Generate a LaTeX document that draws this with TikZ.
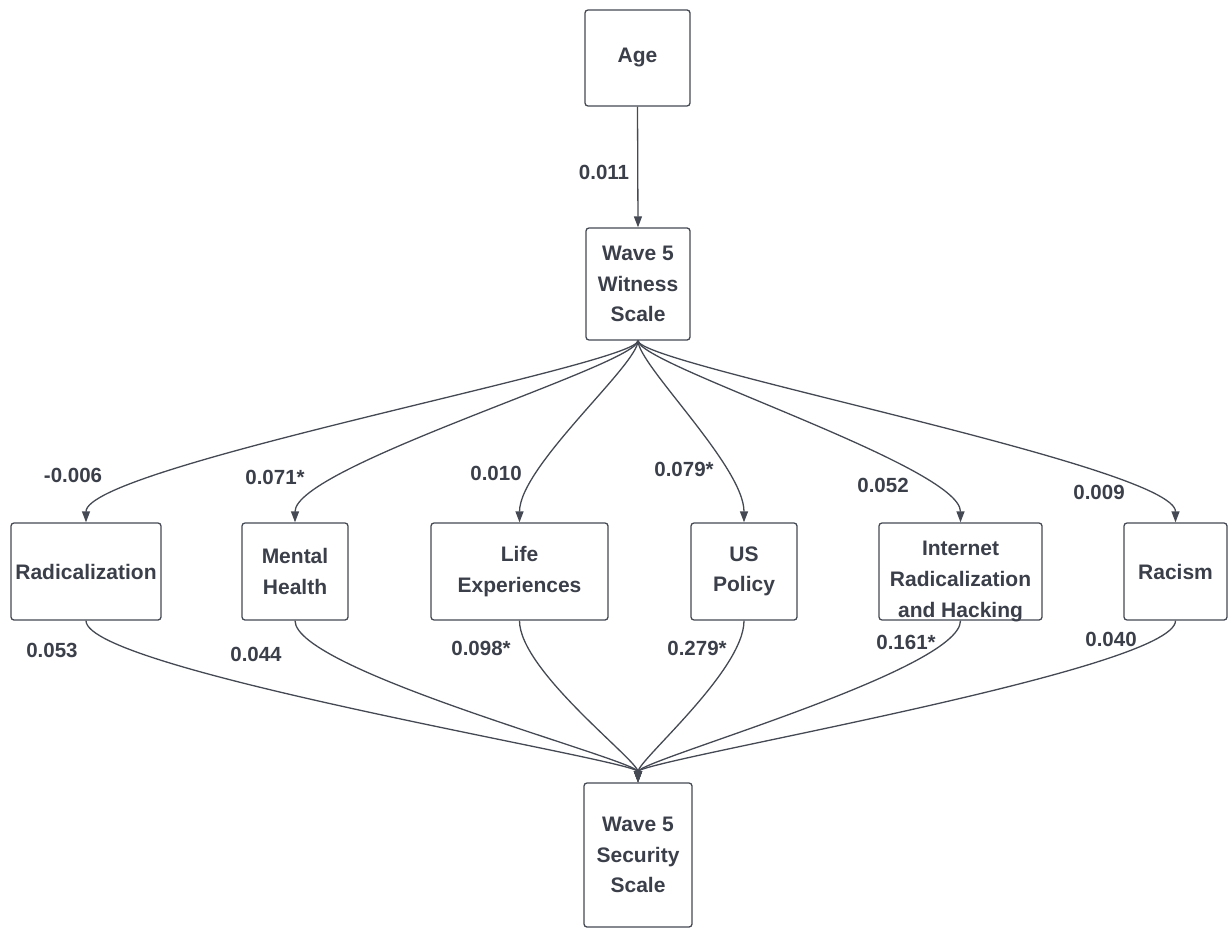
\documentclass[tikz,border=0pt]{standalone}
\usepackage{fontspec}
\setmainfont{Liberation Sans}
\usetikzlibrary{arrows.meta}
\definecolor{ink}{HTML}{3B3F49}
\definecolor{edge}{HTML}{444953}
\tikzset{
  box/.style={draw=edge, line width=1.3pt, rounded corners=3pt, fill=white,
    text=ink, align=center, inner sep=0pt,
    font=\fontsize{21}{30.5}\selectfont\bfseries},
  txt/.style={text=ink, align=center, inner sep=0pt,
    font=\fontsize{21}{31}\selectfont\bfseries},
  coef/.style={text=ink, inner sep=0pt, font=\fontsize{20.5}{24}\selectfont\bfseries},
  conn/.style={draw=edge, line width=1.3pt, -{Triangle[length=11pt,width=8pt]}}
}
\begin{document}
\begin{tikzpicture}[x=1pt,y=-1pt]
\useasboundingbox (0,0) rectangle (1228,928);
% boxes
\node[box, minimum width=105, minimum height=96] (age) at (637.5,58) {Age};
\node[box, minimum width=104, minimum height=112] (wit) at (638,284) {Wave 5\\Witness\\Scale};
\node[box, minimum width=150, minimum height=97] (rad) at (86,571.5) {Radicalization};
\node[box, minimum width=106, minimum height=97] (mh) at (295,571.5) {Mental\\Health};
\node[box, minimum width=177, minimum height=97] (life) at (519.5,571.5) {Life\\Experiences};
\node[box, minimum width=106, minimum height=97] (us) at (744,571.5) {US\\Policy};
\node[box, minimum width=163, minimum height=97] (inet) at (960.5,571.5) {};
\node[txt] (inettext) at (960.5,581) {Internet\\Radicalization\\and Hacking};
\node[box, minimum width=103, minimum height=97] (rac) at (1175.5,571.5) {Racism};
\node[box, minimum width=108, minimum height=144] (sec) at (638,855) {Wave 5\\Security\\Scale};
% age -> witness
\draw[conn] (age.south) -- (wit.north);
\node[coef] (c0) at (604,172) {0.011};
% witness -> mediators
\draw[conn] (wit.south) .. controls +(0,24) and +(0,-56) .. (rad.north);
\draw[conn] (wit.south) .. controls +(0,24) and +(0,-56) .. (mh.north);
\draw[conn] (wit.south) .. controls +(0,24) and +(0,-56) .. (life.north);
\draw[conn] (wit.south) .. controls +(0,24) and +(0,-56) .. (us.north);
\draw[conn] (wit.south) .. controls +(0,24) and +(0,-56) .. (inet.north);
\draw[conn] (wit.south) .. controls +(0,24) and +(0,-56) .. (rac.north);
% mediators -> security
\draw[conn] (rad.south) .. controls +(0,50) and +(0,-22) .. (sec.north);
\draw[conn] (mh.south) .. controls +(0,50) and +(0,-22) .. (sec.north);
\draw[conn] (life.south) .. controls +(0,50) and +(0,-22) .. (sec.north);
\draw[conn] (us.south) .. controls +(0,50) and +(0,-22) .. (sec.north);
\draw[conn] (inet.south) .. controls +(0,50) and +(0,-22) .. (sec.north);
\draw[conn] (rac.south) .. controls +(0,50) and +(0,-22) .. (sec.north);
% coefficients (top)
\node[coef] (a1) at (73,475) {-0.006};
\node[coef] (a2) at (275,477) {0.071*};
\node[coef] (a3) at (496,473) {0.010};
\node[coef] (a4) at (684,469) {0.079*};
\node[coef] (a5) at (883,485) {0.052};
\node[coef] (a6) at (1099,492) {0.009};
% coefficients (bottom)
\node[coef] (b1) at (52,650) {0.053};
\node[coef] (b2) at (256,654) {0.044};
\node[coef] (b3) at (481,648) {0.098*};
\node[coef] (b4) at (697,648) {0.279*};
\node[coef] (b5) at (906,642) {0.161*};
\node[coef] (b6) at (1111,639) {0.040};
\end{tikzpicture}
\end{document}
